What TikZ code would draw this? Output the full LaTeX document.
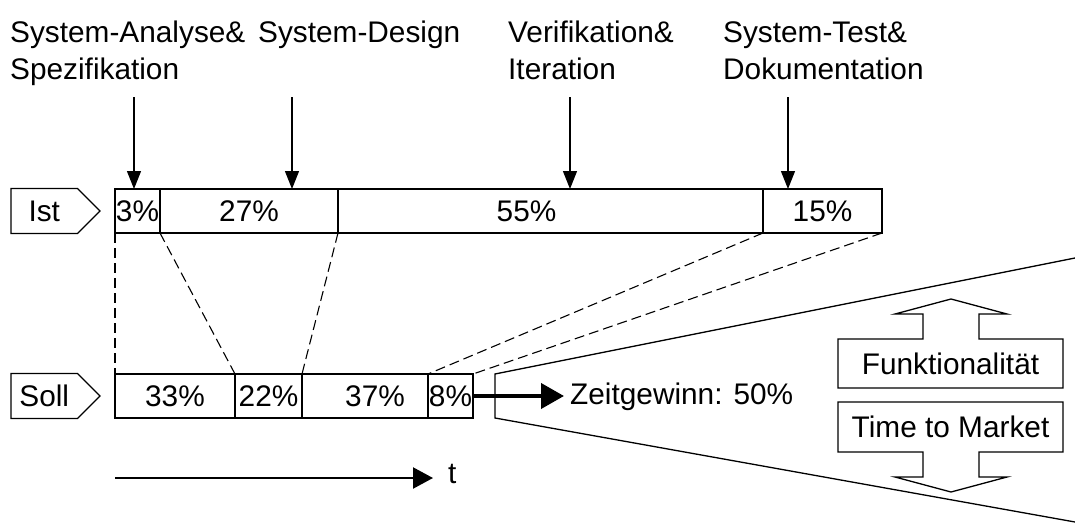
\documentclass[tikz,border=0pt]{standalone}
\usepackage{fontspec}
\setmainfont{Liberation Sans}
\usetikzlibrary{arrows.meta,positioning,shapes.symbols}

\tikzset{
  seg/.style={draw, line width=1.3pt, minimum height=44pt, inner sep=0pt, outer sep=0pt, anchor=west},
  marke/.style={signal, signal to=east, draw, line width=1.3pt, minimum width=89pt, minimum height=45pt, inner sep=0pt, outer sep=0pt, anchor=west},
  phase/.style={anchor=north west, align=left, inner sep=0pt},
  pfeil/.style={line width=1.3pt, -{Triangle[length=18pt,width=14pt]}},
  trenn/.style={line width=1.1pt, dash pattern=on 10pt off 5pt},
  feld/.style={minimum width=225pt, inner sep=0pt, outer sep=0pt},
}

\begin{document}
\begin{tikzpicture}[x=1pt, y=-1pt, font=\fontsize{29.8}{37}\selectfont]
        \useasboundingbox (0,0) rectangle (1075,530);

        \node[phase] (a1) at (10,21) {System-Analyse\&\\Spezifikation};
        \node[phase] (a2) at (258,21) {System-Design};
        \node[phase] (a3) at (508,21) {Verifikation\&\\Iteration};
        \node[phase] (a4) at (723,21) {System-Test\&\\Dokumentation};

        \node[marke] (ist) at (11,211) {Ist};
        \node[seg, minimum width=45pt] (i1) at (115,211) {3\%};
        \node[seg, minimum width=178pt, right=0pt of i1] (i2) {27\%};
        \node[seg, minimum width=425pt, right=0pt of i2] (i3) {\hspace*{-48pt}55\%};
        \node[seg, minimum width=119pt, right=0pt of i3] (i4) {15\%};

        \node[marke] (soll) at (11,396) {Soll};
        \node[seg, minimum width=120pt] (s1) at (115,396) {33\%};
        \node[seg, minimum width=67pt, right=0pt of s1] (s2) {22\%};
        \node[seg, minimum width=126pt, right=0pt of s2] (s3) {\hspace*{20pt}37\%};
        \node[seg, minimum width=45pt, right=0pt of s3] (s4) {8\%};

        \coordinate (p1) at (134,97);
        \coordinate (p2) at (292,97);
        \coordinate (p3) at (570,97);
        \coordinate (p4) at (788,97);
        \foreach \p in {p1,p2,p3,p4}
          \draw[pfeil] (\p) -- (\p |- i1.north);

        \draw[trenn] (i1.south west) -- (s1.north west);
        \draw[trenn] (i1.south east) -- (s1.north east);
        \draw[trenn] (i2.south east) -- (s2.north east);
        \draw[trenn] (i3.south east) -- (s3.north east);
        \draw[trenn] (i4.south east) -- (s4.north east);

        \coordinate (f1) at (495,374);
        \coordinate (f2) at (495,418);
        \coordinate (fo) at (1075,258);
        \coordinate (fu) at (1075,522);
        \draw[line width=1.3pt] (fo) -- (f1) -- (f2) -- (fu);

        \node[anchor=west, inner sep=0pt] (zg) at (570,397) {Zeitgewinn: 50\%};
        \draw[line width=4pt, -{Triangle[length=23pt,width=25pt]}, shorten >=6pt] (s4.east) -- (s4.east -| zg.west);

        \node[feld, minimum height=49pt] (fkt) at (950.5,363.5) {Funktionalität};
        \node[feld, minimum height=50pt] (ttm) at (950.5,427) {Time to Market};
        \draw[line width=1.3pt] (fkt.south west) -- (fkt.north west) -- ++(85,0) -- ++(0,-25) -- ++(-28,0)
          -- ++(56,-15) -- ++(56,15) -- ++(-28,0) -- ++(0,25) -- (fkt.north east) -- (fkt.south east) -- cycle;
        \draw[line width=1.3pt] (ttm.north west) -- (ttm.south west) -- ++(85,0) -- ++(0,25) -- ++(-28,0)
          -- ++(56,15) -- ++(56,-15) -- ++(-28,0) -- ++(0,-25) -- (ttm.south east) -- (ttm.north east) -- cycle;

        \coordinate (t0) at (115,478);
        \coordinate (t1) at (433,478);
        \node[right=15pt of t1, yshift=4pt, inner sep=0pt] (t) {t};
        \draw[line width=2.2pt, -{Triangle[length=20pt,width=21pt]}] (t0) -- (t1);
      \end{tikzpicture}
\end{document}
